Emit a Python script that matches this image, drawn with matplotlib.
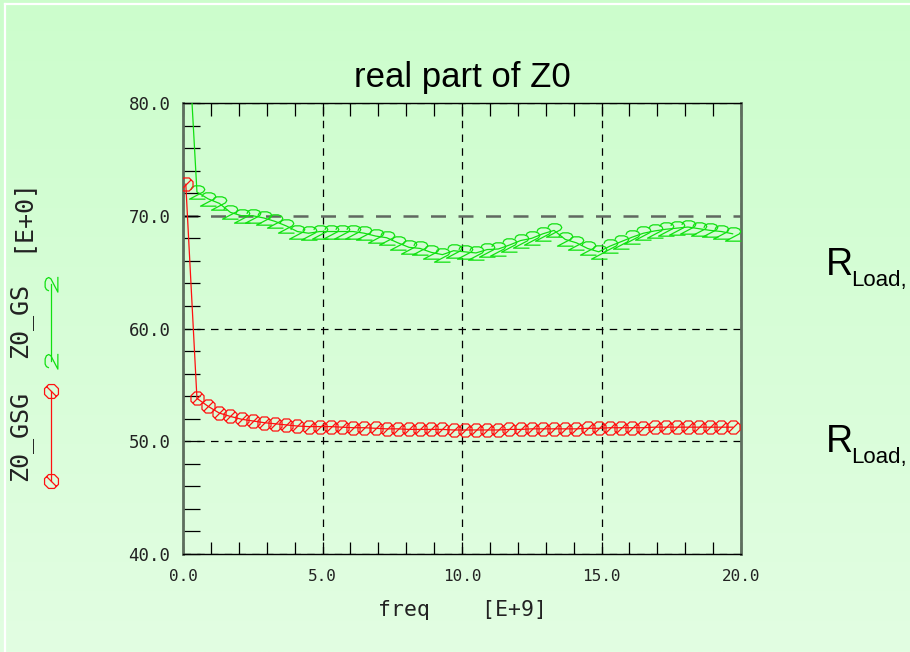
import numpy as np
import matplotlib
matplotlib.use("Agg")
import matplotlib.pyplot as plt
from matplotlib.path import Path

# ---------------- data ----------------
freq = [0.1, 0.5, 0.9, 1.3, 1.7, 2.1, 2.5, 2.9, 3.3, 3.7,
        4.1, 4.5, 4.9, 5.3, 5.7, 6.1, 6.5, 6.9, 7.3, 7.7,
        8.1, 8.5, 8.9, 9.3, 9.7, 10.1, 10.5, 10.9, 11.3, 11.7,
        12.1, 12.5, 12.9, 13.3, 13.7, 14.1, 14.5, 14.9, 15.3, 15.7,
        16.1, 16.5, 16.9, 17.3, 17.7, 18.1, 18.5, 18.9, 19.3, 19.7]

z0_gsg = [72.8, 53.8, 53.1, 52.5, 52.2, 51.95, 51.8, 51.65, 51.55, 51.45,
          51.35, 51.3, 51.3, 51.3, 51.25, 51.2, 51.2, 51.15, 51.1, 51.1,
          51.05, 51.05, 51.05, 51.05, 51.0, 51.0, 51.0, 51.0, 51.0, 51.05,
          51.05, 51.1, 51.1, 51.1, 51.1, 51.1, 51.15, 51.15, 51.2, 51.2,
          51.2, 51.2, 51.25, 51.25, 51.25, 51.25, 51.25, 51.25, 51.25, 51.25]

z0_gs = [90.0, 72.1, 71.5, 71.1, 70.3, 70.0, 70.0, 69.8, 69.5, 69.1,
         68.6, 68.45, 68.6, 68.6, 68.6, 68.6, 68.45, 68.2, 68.05, 67.6,
         67.2, 67.1, 66.75, 66.55, 66.9, 66.8, 66.7, 67.0, 67.05, 67.4,
         67.8, 68.0, 68.4, 68.7, 67.9, 67.6, 67.1, 66.8, 67.3, 67.7,
         68.1, 68.45, 68.65, 68.8, 68.9, 69.0, 68.85, 68.7, 68.6, 68.4]

x_ticks = [0.0, 5.0, 10.0, 15.0, 20.0]
y_ticks = [40.0, 50.0, 60.0, 70.0, 80.0]
title = "real part of Z0"
x_label = "freq    [E+9]"
series_names = ["Z0_GSG", "Z0_GS"]
unit_label = "[E+0]"

RED = "#ff1010"
GREEN = "#10e010"
MONO = "DejaVu Sans Mono"
SANS = "Liberation Sans"

# ---------------- markers ----------------
ang = np.deg2rad(22.5 + 45 * np.arange(8))
oct_v = [(np.cos(a), np.sin(a)) for a in ang]
oct_verts = oct_v + [oct_v[0], (-0.66, -0.66), (0.66, 0.66)]
oct_codes = [Path.MOVETO] + [Path.LINETO] * 7 + [Path.CLOSEPOLY, Path.MOVETO, Path.LINETO]
oct_marker = Path(oct_verts, oct_codes)

two_verts = [(-0.5, 0.2), (-0.4, 0.4), (-0.2, 0.5), (0.2, 0.5), (0.45, 0.4),
             (0.55, 0.22), (0.45, 0.05), (-0.6, -0.5), (0.6, -0.5)]
two_codes = [Path.MOVETO] + [Path.LINETO] * 8
two_marker = Path(two_verts, two_codes)


def rot90(path):
    v = np.asarray(path.vertices)
    return Path(np.column_stack([-v[:, 1], v[:, 0]]), path.codes)


W, H = 910, 652
fig = plt.figure(figsize=(W / 100, H / 100), dpi=100)

# background gradient
bg = fig.add_axes([0, 0, 1, 1])
top = np.array([204, 253, 204]) / 255.0
bot = np.array([226, 254, 226]) / 255.0
t = np.linspace(0, 1, 256)[:, None, None]
grad = top[None, None, :] * (1 - t) + bot[None, None, :] * t
bg.imshow(np.repeat(grad, 2, axis=1), aspect="auto", extent=[0, W, H, 0])
bg.set_xlim(0, W)
bg.set_ylim(H, 0)
bg.axis("off")
bg.plot([5, W], [4, 4], color="white", lw=1.6)
bg.plot([5, 5], [4, H], color="white", lw=1.6)

# ---------------- main axes ----------------
L, R, T, B = 183, 741, 103, 554
ax = fig.add_axes([L / W, (H - B) / H, (R - L) / W, (B - T) / H])
ax.patch.set_alpha(0)
ax.set_xlim(0, 20)
ax.set_ylim(40, 80)

ax.plot(freq, z0_gs, color=GREEN, lw=0.9, marker=two_marker, ms=11.5,
        mfc="none", mec=GREEN, mew=0.9, zorder=3)
ax.plot(freq, z0_gsg, color=RED, lw=0.9, marker=oct_marker, ms=9.4,
        mfc="none", mec=RED, mew=0.9, zorder=4)

ax.set_xticks(x_ticks)
ax.set_xticks(np.arange(0, 21, 1), minor=True)
ax.set_yticks(y_ticks)
ax.set_yticks(np.arange(40, 81, 2), minor=True)
ax.set_xticklabels([f"{v:.1f}" for v in x_ticks], fontfamily=MONO, fontsize=11.5, color="#222222")
ax.set_yticklabels([f"{v:.1f}" for v in y_ticks], fontfamily=MONO, fontsize=12.5, color="#222222")

ax.tick_params(axis="x", which="both", direction="in", top=True, bottom=True,
               length=9, width=0.9, color="black", pad=11)
ax.tick_params(axis="y", which="both", direction="in", left=True, right=False,
               length=12, width=0.9, color="black", pad=9)

ax.grid(True, which="major", color="black", linestyle=(0, (6, 5)), lw=0.9)
glines = ax.yaxis.get_gridlines()
if len(glines) > 3:
    glines[3].set_color("#606860")
    glines[3].set_linewidth(1.8)

for s in ["left", "right"]:
    ax.spines[s].set_color("#5e6e5e")
    ax.spines[s].set_linewidth(2.0)
for s in ["top", "bottom"]:
    ax.spines[s].set_color("black")
    ax.spines[s].set_linewidth(1.0)

ax.set_xlabel(x_label, fontfamily=MONO, fontsize=15.5, color="#222222", va="center")
ax.xaxis.set_label_coords(0.5, (B - 610) / (B - T))

fig.text(462 / W, 1 - 77 / H, title, ha="center", va="center",
         fontfamily=SANS, fontsize=25, color="black")

# ---------------- left legend (rotated) ----------------
ov = fig.add_axes([0, 0, 1, 1])
ov.set_xlim(0, W)
ov.set_ylim(H, 0)
ov.axis("off")
ov.patch.set_alpha(0)

ov.plot([51, 51], [391, 481], color=RED, lw=0.9, marker=rot90(oct_marker), ms=10,
        mfc="none", mec=RED, mew=0.9)
ov.plot([51, 51], [284, 361], color=GREEN, lw=0.9, marker=rot90(two_marker), ms=11,
        mfc="none", mec=GREEN, mew=0.9)
ov.text(20, 436, series_names[0], rotation=90, ha="center", va="center",
        fontfamily=MONO, fontsize=18, color="#222222")
ov.text(20, 320, series_names[1], rotation=90, ha="center", va="center",
        fontfamily=MONO, fontsize=18, color="#222222")
ov.text(20, 215, unit_label, rotation=90, ha="center", va="center",
        fontfamily=MONO, fontsize=18, color="#222222")

# ---------------- right annotations ----------------
for yb_R, yb_s in [(275, 286), (452, 463)]:
    ov.text(826, yb_R, "R", ha="left", va="baseline", fontfamily=SANS, fontsize=27, color="black")
    ov.text(851, yb_s, "Load,", ha="left", va="baseline", fontfamily=SANS, fontsize=16, color="black")

fig.savefig("out.png", dpi=100)
